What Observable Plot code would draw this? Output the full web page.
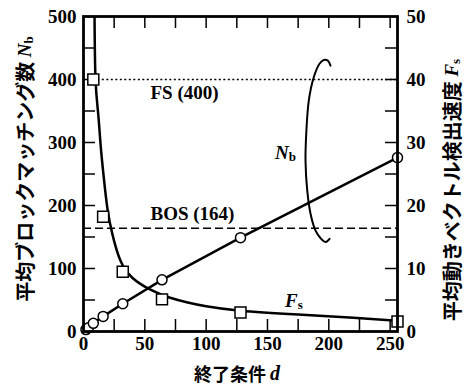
<!DOCTYPE html>
<html><head><meta charset="utf-8">
<script src="https://cdn.jsdelivr.net/npm/d3@7"></script>
<script src="https://cdn.jsdelivr.net/npm/@observablehq/plot@0.6"></script>
<style>body{margin:0;background:#fff}</style>
</head><body><div id="chart"></div>
<script>
// Nb (block matching count), left axis
const nbD = [2, 4, 8, 16, 32, 64, 128, 256];
const nbValues = [3, 6, 13, 24, 44, 82, 149, 276];
// Fs (detection speed), right axis, measured squares
const fsD = [8, 16, 32, 64, 128, 256];
const fsValues = [40, 18.2, 9.5, 5.1, 3.0, 1.6];
// Fs fitted curve
const fsCurveD = [9, 9.8, 12, 14, 16.5, 19.5, 23.5, 30, 40, 55, 70, 85, 100, 128, 175, 220, 256];
const fsCurveValues = [50, 40, 34.5, 29.5, 24.5, 19.5, 15.5, 11.3, 8.5, 6.6, 5.4, 4.6, 4.0, 3.3, 2.7, 2.2, 1.7];
// reference lines
const refNames = ["FS (400)", "BOS (164)"];
const refValues = [400, 164];
// bracket annotation (d, Nb)
const bracketD = [201.4, 199.2, 195.9, 192.4, 187.8, 183.7, 181.6, 181.0, 182.4, 185.1, 189.2, 193.3, 197.4, 200.6];
const bracketNb = [422, 430, 431, 425, 404, 367, 314, 271, 224, 187, 160, 148, 142, 147];
// ticks
const xLabels = [0, 50, 100, 150, 200, 250];
const xTicks = [25, 50, 75, 100, 125, 150, 175, 200, 225, 250];
const yLeftLabels = [0, 100, 200, 300, 400, 500];
const yTicks = [50, 100, 150, 200, 250, 300, 350, 400, 450];
const yRightScale = 10; // Fs * 10 = Nb units

const W = 466, H = 387, mL = 83, mR = 69, mT = 16, mB = 56;
const pw = W - mL - mR, ph = H - mT - mB, tk = 12;

const nbData = nbD.map((d, i) => ({d, v: nbValues[i]}));
const fsData = fsD.map((d, i) => ({d, v: fsValues[i] * yRightScale}));
const fsCurve = fsCurveD.map((d, i) => ({d, v: fsCurveValues[i] * yRightScale}));
const bracket = bracketD.map((d, i) => ({d, v: bracketNb[i]}));

const plot = Plot.plot({
  width: W, height: H,
  marginLeft: mL, marginRight: mR, marginTop: mT, marginBottom: mB,
  style: {fontFamily: "Liberation Serif", fontSize: "19px", fontWeight: "bold", background: "#fff", color: "#000"},
  x: {domain: [0, 256]},
  y: {domain: [0, 500]},
  marks: [
    Plot.ruleX(xTicks, {x: d => d, insetTop: ph - tk, strokeWidth: 1.5}),
    Plot.ruleX(xTicks, {x: d => d, insetBottom: ph - tk, strokeWidth: 1.5}),
    Plot.ruleY(yTicks, {y: d => d, insetRight: pw - tk, strokeWidth: 1.5}),
    Plot.ruleY(yTicks, {y: d => d, insetLeft: pw - tk, strokeWidth: 1.5}),
    Plot.axisX(xLabels, {anchor: "bottom", tickSize: 0, tickPadding: 5, label: null, fontSize: 19}),
    Plot.axisY(yLeftLabels, {anchor: "left", tickSize: 0, tickPadding: 7, label: null, fontSize: 19}),
    Plot.axisY(yLeftLabels, {anchor: "right", tickSize: 0, tickPadding: 9, label: null, fontSize: 19, tickFormat: d => d / yRightScale}),
    Plot.ruleY([refValues[0]], {x1: fsD[0], x2: 256, strokeDasharray: "2,2.5", strokeWidth: 1.5}),
    Plot.ruleY([refValues[1]], {x1: 0, x2: 256, strokeDasharray: "8,4", strokeWidth: 1.5}),
    Plot.line(fsCurve, {x: "d", y: "v", curve: "natural", strokeWidth: 2.5, clip: true}),
    Plot.line(nbData, {x: "d", y: "v", strokeWidth: 2.5}),
    Plot.line(bracket, {x: "d", y: "v", curve: "catmull-rom", strokeWidth: 2}),
    Plot.dot(nbData, {x: "d", y: "v", r: 5, fill: "#fff", stroke: "#000", strokeWidth: 1.5}),
    Plot.dot(fsData, {x: "d", y: "v", r: 6.2, symbol: "square", fill: "#fff", stroke: "#000", strokeWidth: 1.5}),
    Plot.text([0, 1], {x: () => 54.6, y: i => [379, 187][i], text: i => refNames[i], textAnchor: "start", fontSize: 19}),
    Plot.frame({strokeWidth: 2.8})
  ]
});

const svg = d3.select(plot);
const sx = plot.scale("x"), sy = plot.scale("y");

function rich(parent, x, y, parts, opts = {}) {
  const t = parent.append("text")
    .attr("x", x).attr("y", y)
    .attr("text-anchor", "middle")
    .attr("dominant-baseline", "central")
    .attr("fill", "#000")
    .attr("font-weight", "bold");
  if (opts.rotate) t.attr("transform", `rotate(${opts.rotate},${x},${y})`);
  for (const p of parts) {
    const s = t.append("tspan").text(p.text)
      .attr("font-family", p.family || "Liberation Serif")
      .attr("font-size", p.size || 19);
    if (p.italic) s.attr("font-style", "italic");
    if (p.dy) s.attr("dy", p.dy);
  }
  return t;
}

const cjk = "'Noto Sans CJK JP'";
// in-plot labels
rich(svg, sx.apply(165), sy.apply(284), [
  {text: "N", italic: true, size: 19},
  {text: "b", size: 13, dy: 4}
]);
rich(svg, sx.apply(172), sy.apply(49), [
  {text: "F", italic: true, size: 19},
  {text: "s", size: 13, dy: 4}
]);
// axis titles
rich(svg, 237, 373, [
  {text: "終了条件 ", family: cjk, size: 18},
  {text: "d", italic: true, size: 20}
]);
rich(svg, 24, 169, [
  {text: "平均ブロックマッチング数 ", family: cjk, size: 20},
  {text: "N", italic: true, size: 19},
  {text: "b", size: 13, dy: 4}
], {rotate: -90});
rich(svg, 451, 190, [
  {text: "平均動きベクトル検出速度 ", family: cjk, size: 20},
  {text: "F", italic: true, size: 19},
  {text: "s", size: 13, dy: 4}
], {rotate: -90});

document.getElementById("chart").appendChild(plot);
</script>
</body></html>
